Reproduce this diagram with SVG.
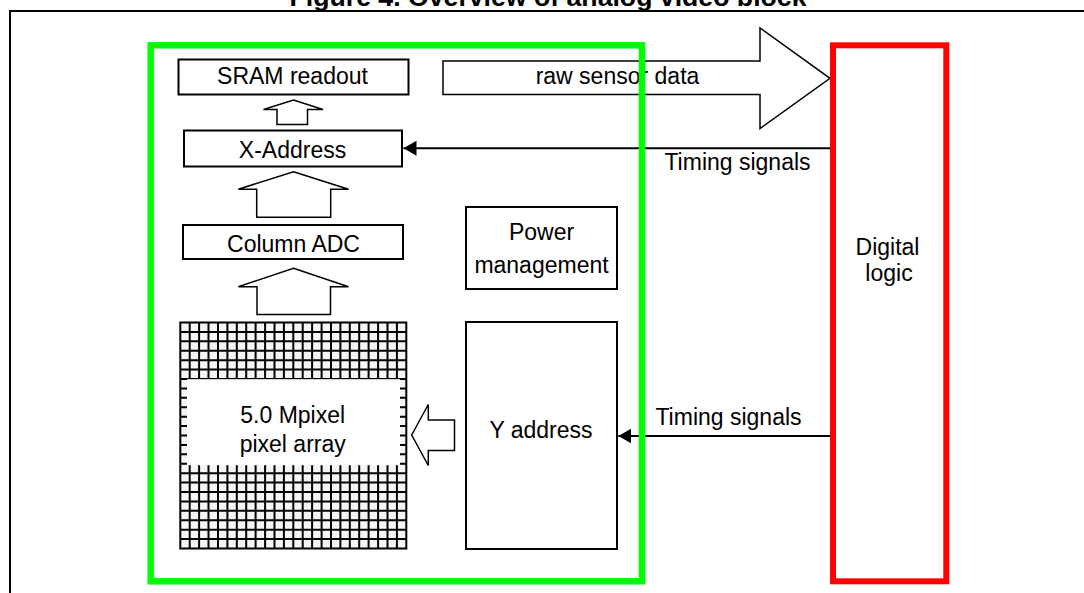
<svg xmlns="http://www.w3.org/2000/svg" width="1084" height="593" viewBox="0 0 1084 593">
<defs>
<style>
.t{font-family:"Liberation Sans",Arial,sans-serif;font-size:23px;fill:#000;text-anchor:middle}
.title{font-family:"Liberation Sans",Arial,sans-serif;font-size:26px;font-weight:bold;fill:#000;text-anchor:middle}
.box{fill:#fff;stroke:#000;stroke-width:2}
.barrow{fill:#fff;stroke:#000;stroke-width:1.5;stroke-linejoin:miter}
.wire{fill:none;stroke:#000;stroke-width:2}
</style>
<marker id="ah" markerUnits="userSpaceOnUse" markerWidth="14" markerHeight="16" refX="13" refY="7.5" orient="auto">
<path d="M0,0 L13,7.5 L0,15 Z" fill="#000"/>
</marker>
</defs>
<rect width="1084" height="593" fill="#fff"/>
<g id="frame">
<text class="title" x="548" y="6" textLength="517" lengthAdjust="spacingAndGlyphs">Figure 4. Overview of analog video block</text>
<path d="M10,593 V11 H1084" fill="none" stroke="#000" stroke-width="2"/>
</g>
<g id="raw-sensor-data">
<polygon class="barrow" points="443,61 760,61 760,28 830,78.3 760,128.5 760,94.5 443,94.5"/>
<text class="t" x="617.5" y="84.3">raw sensor data</text>
</g>
<g id="sram-readout">
<rect class="box" x="178.5" y="59.5" width="230" height="35"/>
<text class="t" x="292.5" y="84.3">SRAM readout</text>
</g>
<g id="x-address">
<rect class="box" x="184" y="130.5" width="218" height="36"/>
<text class="t" x="292.5" y="157.7">X-Address</text>
</g>
<g id="column-adc">
<rect class="box" x="183" y="225" width="220" height="34"/>
<text class="t" x="293.5" y="251.7">Column ADC</text>
</g>
<g id="power-management">
<rect class="box" x="466" y="207" width="151" height="82"/>
<text class="t" x="541.5" y="240">Power</text>
<text class="t" x="541.5" y="273.3">management</text>
</g>
<g id="y-address">
<rect class="box" x="466" y="322" width="151" height="227"/>
<text class="t" x="541" y="438.3">Y address</text>
</g>
<g id="pixel-array">
<rect x="180.3" y="322.5" width="226" height="226" fill="#f5f5f5"/>
<path fill="none" stroke="#000" stroke-width="2" d="M180.3,321.5V549.5M189.7,321.5V549.5M199.1,321.5V549.5M208.5,321.5V549.5M218,321.5V549.5M227.4,321.5V549.5M236.8,321.5V549.5M246.2,321.5V549.5M255.6,321.5V549.5M265.1,321.5V549.5M274.5,321.5V549.5M283.9,321.5V549.5M293.3,321.5V549.5M302.7,321.5V549.5M312.1,321.5V549.5M321.6,321.5V549.5M331,321.5V549.5M340.4,321.5V549.5M349.8,321.5V549.5M359.2,321.5V549.5M368.6,321.5V549.5M378.1,321.5V549.5M387.5,321.5V549.5M396.9,321.5V549.5M406.3,321.5V549.5M179.3,322.5H407.3M179.3,331.9H407.3M179.3,341.3H407.3M179.3,350.8H407.3M179.3,360.2H407.3M179.3,369.6H407.3M179.3,379H407.3M179.3,388.4H407.3M179.3,397.8H407.3M179.3,407.3H407.3M179.3,416.7H407.3M179.3,426.1H407.3M179.3,435.5H407.3M179.3,444.9H407.3M179.3,454.3H407.3M179.3,463.8H407.3M179.3,473.2H407.3M179.3,482.6H407.3M179.3,492H407.3M179.3,501.4H407.3M179.3,510.8H407.3M179.3,520.3H407.3M179.3,529.7H407.3M179.3,539.1H407.3M179.3,548.5H407.3"/>
<rect x="187" y="379.2" width="213" height="86" fill="#fff"/>
<text class="t" x="292.7" y="423.3">5.0 Mpixel</text>
<text class="t" x="292.7" y="451.7">pixel array</text>
</g>
<g id="connectors">
<polygon class="barrow" points="293.5,100 323,109.5 307.5,109.5 307.5,124.5 277,124.5 277,109.5 263.5,109.5"/>
<polygon class="barrow" points="293.5,171.7 348.5,189.3 330.7,189.3 330.7,217.3 256.7,217.3 256.7,189.3 238.3,189.3"/>
<polygon class="barrow" points="293.5,268.3 348.5,286.7 330.5,286.7 330.5,314.5 257,314.5 257,286.7 238.3,286.7"/>
<polygon class="barrow" points="411.7,435 428.3,404.5 428.3,420 454.5,420 454.5,450.5 428.3,450.5 428.3,465.5"/>
<line class="wire" x1="830" y1="148.3" x2="403.5" y2="148.3" marker-end="url(#ah)"/>
<text class="t" x="737.5" y="170">Timing signals</text>
<line class="wire" x1="830" y1="436" x2="618.3" y2="436" marker-end="url(#ah)"/>
<text class="t" x="728.5" y="425">Timing signals</text>
</g>
<g id="analog-block">
<rect x="150.7" y="45.3" width="491.3" height="536" fill="none" stroke="#00ff00" stroke-width="6.5"/>
</g>
<g id="digital-logic">
<rect x="833" y="45.3" width="113.3" height="536" fill="none" stroke="#ff0000" stroke-width="6"/>
<text class="t" x="887.5" y="255">Digital</text>
<text class="t" x="889" y="280.5">logic</text>
</g>
</svg>
